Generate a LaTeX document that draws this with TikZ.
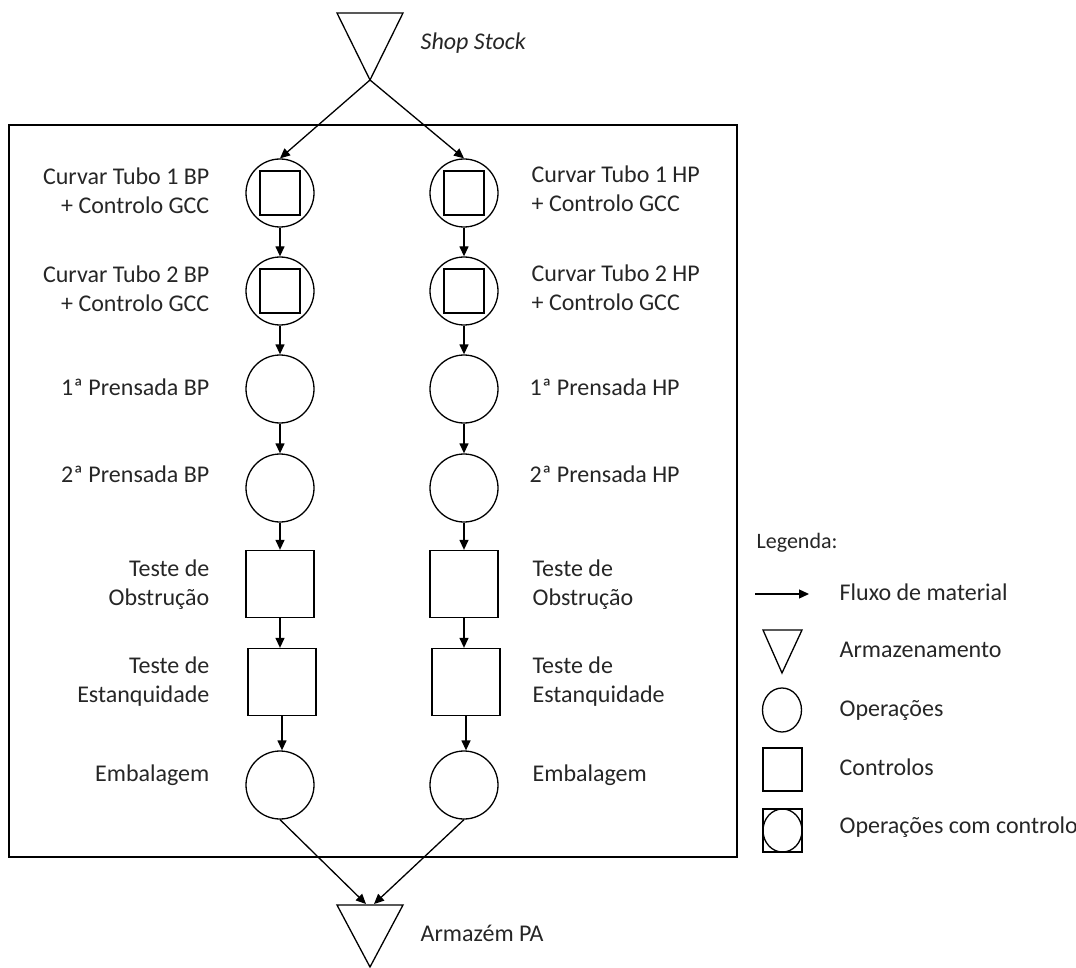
\documentclass[tikz,border=0pt]{standalone}
\usepackage{fontspec}
\setmainfont{Carlito}
\usetikzlibrary{arrows.meta,shapes.geometric}
\begin{document}
\begin{tikzpicture}[x=1pt,y=-1pt, line width=1.3pt,
 op/.style={circle,draw,minimum size=68pt,inner sep=0pt},
 ctl/.style={rectangle,draw,minimum width=68pt,minimum height=67pt,inner sep=0pt},
 innerbox/.style={rectangle,draw,minimum width=40pt,minimum height=44pt,inner sep=0pt},
 flow/.style={-{Triangle[length=10pt,width=9pt]}},
 lab/.style={font=\fontsize{24}{29}\selectfont, text=black!85, inner sep=0pt},
 labl/.style={lab,anchor=east,align=right},
 labr/.style={lab,anchor=west,align=left},
]
\useasboundingbox (0,0) rectangle (1076,968);

% frame
\draw (9,125) rectangle (737,857);

% top storage
\draw (337,13) -- (403,13) -- (370,80) -- cycle;
\coordinate (ss) at (370,80);
\node[lab,anchor=west,font=\fontsize{24}{29}\selectfont\itshape] (sslab) at (420,43) {Shop Stock};

% bottom storage
\draw (337,905) -- (403,905) -- (370,967) -- cycle;
\coordinate (pa) at (370,905);
\coordinate (paL) at (366,904);
\coordinate (paR) at (374,904);
\node[labr] (palab) at (420,933) {Armazém PA};

% left column (BP)
\node[op] (L1) at (280,193) {};
\node[innerbox] (L1s) at (280,193) {};
\node[op] (L2) at (280,291) {};
\node[innerbox] (L2s) at (280,291) {};
\node[op] (L3) at (280,389) {};
\node[op] (L4) at (280,488) {};
\node[ctl] (L5) at (280,584) {};
\node[ctl] (L6) at (282,682) {};
\node[op] (L7) at (280,785) {};

% right column (HP)
\node[op] (R1) at (464,193) {};
\node[innerbox] (R1s) at (464,193) {};
\node[op] (R2) at (464,291) {};
\node[innerbox] (R2s) at (464,291) {};
\node[op] (R3) at (464,389) {};
\node[op] (R4) at (464,488) {};
\node[ctl] (R5) at (464,584) {};
\node[ctl] (R6) at (466,682) {};
\node[op] (R7) at (464,785) {};

% left labels
\node[labl] (tL1) at (210,191) {Curvar Tubo 1 BP\\+ Controlo GCC};
\node[labl] (tL2) at (210,289) {Curvar Tubo 2 BP\\+ Controlo GCC};
\node[labl] (tL3) at (210,387) {1ª Prensada BP};
\node[labl] (tL4) at (210,474) {2ª Prensada BP};
\node[labl] (tL5) at (210,585) {Teste de\\Obstrução};
\node[labl] (tL6) at (210,682) {Teste de\\Estanquidade};
\node[labl] (tL7) at (210,775) {Embalagem};

% right labels
\node[labr] (tR1) at (531,189) {Curvar Tubo 1 HP\\+ Controlo GCC};
\node[labr] (tR2) at (531,288) {Curvar Tubo 2 HP\\+ Controlo GCC};
\node[labr] (tR3) at (529,387) {1ª Prensada HP};
\node[labr] (tR4) at (529,474) {2ª Prensada HP};
\node[labr] (tR5) at (532,585) {Teste de\\Obstrução};
\node[labr] (tR6) at (532,682) {Teste de\\Estanquidade};
\node[labr] (tR7) at (532,775) {Embalagem};

% flows
\draw[flow] (ss) -- (L1.north);
\draw[flow] (ss) -- (R1.north);
\foreach \a/\b in {1/2,2/3,3/4,4/5,5/6,6/7}{
  \draw[flow] (L\a.south) -- (L\a.south |- L\b.north);
  \draw[flow] (R\a.south) -- (R\a.south |- R\b.north);
}
\draw[flow] (L7.south) -- (paL);
\draw[flow] (R7.south) -- (paR);

% legend
\node[lab,anchor=west,font=\fontsize{22}{26}\selectfont] (leg) at (756,543) {Legenda:};
\coordinate (la1) at (755,594);
\coordinate (la2) at (809,594);
\draw[flow] (la1) -- (la2);
\node[labr] (lt1) at (839,592) {Fluxo de material};
\draw (763,630) -- (802,630) -- (782,673) -- cycle;
\node[labr] (lt2) at (839,650) {Armazenamento};
\draw (782,710) ellipse [x radius=19.5pt, y radius=22pt];
\node[labr] (lt3) at (839,710) {Operações};
\draw (763,748) rectangle (802,791);
\node[labr] (lt4) at (839,767) {Controlos};
\draw (763,809) rectangle (802,852);
\draw (782.5,830.5) ellipse [x radius=19.5pt, y radius=21.5pt];
\node[labr] (lt5) at (839,827) {Operações com controlo};
\end{tikzpicture}
\end{document}
